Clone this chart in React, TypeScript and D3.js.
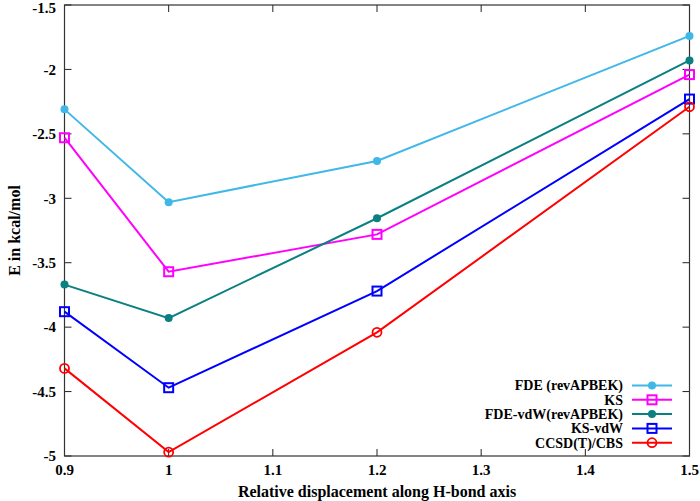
import React from "react";
import * as d3 from "d3";

const xValues = [0.9, 1.0, 1.2, 1.5];
const seriesNames = ["FDE (revAPBEK)", "KS", "FDE-vdW(revAPBEK)", "KS-vdW", "CCSD(T)/CBS"];
const fdeValues = [-2.31, -3.03, -2.71, -1.74];
const ksValues = [-2.53, -3.57, -3.28, -2.04];
const fdeVdwValues = [-3.67, -3.93, -3.155, -1.93];
const ksVdwValues = [-3.88, -4.47, -3.72, -2.23];
const ccsdValues = [-4.32, -4.97, -4.04, -2.29];
const xTicks = [0.9, 1, 1.1, 1.2, 1.3, 1.4, 1.5];
const yTicks = [-1.5, -2, -2.5, -3, -3.5, -4, -4.5, -5];

const colors = ["#3fb8e8", "#ff00ff", "#0a8080", "#0000ff", "#ff0000"];
const markers = ["dot", "square", "dot", "square", "circle"];
const allValues = [fdeValues, ksValues, fdeVdwValues, ksVdwValues, ccsdValues];

const W = 700, H = 501;
const L = 64.5, R = 689.5, T = 5, B = 456;

function Marker({ type, x, y, color }: { type: string; x: number; y: number; color: string }) {
  if (type === "dot") return <circle cx={x} cy={y} r={4} fill={color} />;
  if (type === "square")
    return <rect x={x - 4.5} y={y - 4.5} width={9} height={9} fill="none" stroke={color} strokeWidth={2} />;
  return <circle cx={x} cy={y} r={4.5} fill="none" stroke={color} strokeWidth={1.8} />;
}

export default function App() {
  const x = d3.scaleLinear().domain([0.9, 1.5]).range([L, R]);
  const y = d3.scaleLinear().domain([-5, -1.5]).range([B, T]);
  const line = d3.line<number>().x((_, i) => x(xValues[i])).y((d) => y(d));
  const font = "'Liberation Serif', 'Times New Roman', serif";
  const legendY0 = 385.5;
  const legendDy = 14.3;
  return (
    <svg width={W} height={H} style={{ position: "absolute", left: 0, top: 0 }} fontFamily={font}>
      <rect width={W} height={H} fill="#fff" />
      {yTicks.map((t) => (
        <g key={"y" + t}>
          <line x1={L} x2={L + 7} y1={y(t)} y2={y(t)} stroke="#222" />
          <line x1={R} x2={R - 7} y1={y(t)} y2={y(t)} stroke="#222" />
          <text x={56} y={Math.max(y(t), 7.5)} dy="0.35em" textAnchor="end" fontSize={15} fontWeight="bold">
            {String(t)}
          </text>
        </g>
      ))}
      {xTicks.map((t) => (
        <g key={"x" + t}>
          <line x1={x(t)} x2={x(t)} y1={B} y2={B - 7} stroke="#222" />
          <line x1={x(t)} x2={x(t)} y1={T} y2={T + 7} stroke="#222" />
          <text x={x(t)} y={475} textAnchor="middle" fontSize={15} fontWeight="bold">
            {String(t)}
          </text>
        </g>
      ))}
      <rect x={L} y={T} width={R - L} height={B - T} fill="none" stroke="#333" strokeWidth={1.2} />
      {allValues.map((vals, si) => (
        <g key={si}>
          <path d={line(vals) || ""} fill="none" stroke={colors[si]} strokeWidth={2} />
          {vals.map((v, i) => (
            <Marker key={i} type={markers[si]} x={x(xValues[i])} y={y(v)} color={colors[si]} />
          ))}
        </g>
      ))}
      {seriesNames.map((n, si) => {
        const ly = legendY0 + si * legendDy;
        return (
          <g key={n}>
            <text x={623} y={ly} dy="0.35em" textAnchor="end" fontSize={14} fontWeight="bold">
              {n}
            </text>
            <line x1={632} x2={672} y1={ly} y2={ly} stroke={colors[si]} strokeWidth={2} />
            <Marker type={markers[si]} x={652} y={ly} color={colors[si]} />
          </g>
        );
      })}
      <text
        transform={`translate(14,${(T + B) / 2}) rotate(-90)`}
        textAnchor="middle"
        dy="0.35em"
        fontSize={16}
        fontWeight="bold"
      >
        E in kcal/mol
      </text>
      <text x={(L + R) / 2} y={497} textAnchor="middle" fontSize={16} fontWeight="bold">
        Relative displacement along H-bond axis
      </text>
    </svg>
  );
}
